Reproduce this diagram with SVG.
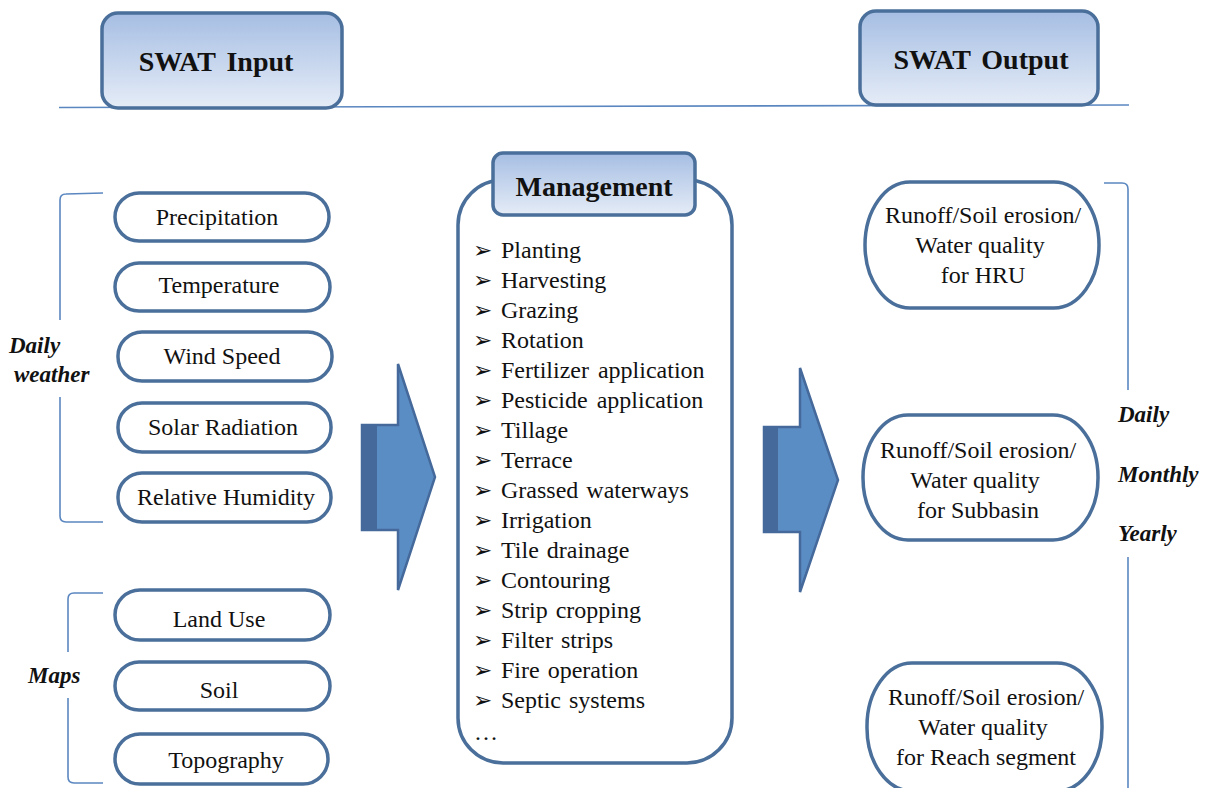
<svg xmlns="http://www.w3.org/2000/svg" width="1209" height="788" viewBox="0 0 1209 788">
  <defs>
    <linearGradient id="hdrFill" x1="0" y1="0" x2="0" y2="1">
      <stop offset="0" stop-color="#a6bee3"/>
      <stop offset="1" stop-color="#e5ecf7"/>
    </linearGradient>
    <style>
      .hdr { fill: url(#hdrFill); stroke: #4a6f9a; stroke-width: 3.5; }
      .pill { fill: #ffffff; stroke: #4a6f9a; stroke-width: 3.5; }
      .brk { fill: none; stroke: #5b87c0; stroke-width: 1.6; }
      .arrow { fill: #5b8dc5; stroke: #44699a; stroke-width: 2.5; stroke-linejoin: miter; }
      .strip { fill: #45699a; }
      .t { font-family: "Liberation Serif", "Times New Roman", serif; font-size: 24px; fill: #111111; }
      .tb { font-family: "Liberation Serif", "Times New Roman", serif; font-size: 28px; font-weight: bold; fill: #111111; }
      .ti { font-family: "Liberation Serif", "Times New Roman", serif; font-size: 23px; font-weight: bold; font-style: italic; fill: #111111; }
      .bul { font-family: "DejaVu Sans", sans-serif; font-size: 23px; fill: #111111; }
      .c { text-anchor: middle; }
    </style>
  </defs>

  <!-- header rule -->
  <line x1="59" y1="107.5" x2="1129" y2="105" stroke="#5b87c0" stroke-width="1.6"/>

  <!-- section headers -->
  <g id="swat-input">
    <rect class="hdr" x="102" y="13" width="240" height="95" rx="16"/>
    <text class="tb c" x="216" y="71" word-spacing="4">SWAT Input</text>
  </g>
  <g id="swat-output">
    <rect class="hdr" x="860" y="11" width="238" height="94" rx="16"/>
    <text class="tb c" x="981" y="69" word-spacing="4">SWAT Output</text>
  </g>

  <!-- brackets -->
  <g id="brackets">
    <path class="brk" d="M103,193 L66,194 Q60,194 60,200 L60,320"/>
    <path class="brk" d="M60,397 L60,516 Q60,522 66,522 L103,522"/>
    <path class="brk" d="M103,593 L74,593 Q68,593 68,599 L68,652"/>
    <path class="brk" d="M68,698 L68,777 Q68,783 74,783 L103,783"/>
    <path class="brk" d="M1104,183 L1122,183 Q1128,183 1128,189 L1128,390"/>
    <path class="brk" d="M1128,557 L1128,790"/>
  </g>

  <!-- group labels -->
  <g id="labels">
    <text class="ti" x="9" y="353">Daily</text>
    <text class="ti" x="14" y="382">weather</text>
    <text class="ti" x="28" y="683">Maps</text>
    <text class="ti" x="1118" y="422">Daily</text>
    <text class="ti" x="1118" y="482">Monthly</text>
    <text class="ti" x="1118" y="541">Yearly</text>
  </g>

  <!-- weather inputs -->
  <g id="precipitation">
    <rect class="pill" x="115" y="193" width="214" height="48" rx="24"/>
    <text class="t c" x="217" y="225">Precipitation</text>
  </g>
  <g id="temperature">
    <rect class="pill" x="115" y="263" width="215" height="48" rx="24"/>
    <text class="t c" x="219" y="293">Temperature</text>
  </g>
  <g id="wind-speed">
    <rect class="pill" x="118" y="332" width="214" height="49" rx="24"/>
    <text class="t c" x="222" y="364">Wind Speed</text>
  </g>
  <g id="solar-radiation">
    <rect class="pill" x="118" y="403" width="213" height="49" rx="24"/>
    <text class="t c" x="223" y="435">Solar Radiation</text>
  </g>
  <g id="relative-humidity">
    <rect class="pill" x="118" y="473" width="213" height="49" rx="24"/>
    <text class="t c" x="226" y="505">Relative Humidity</text>
  </g>

  <!-- map inputs -->
  <g id="land-use">
    <rect class="pill" x="115" y="590" width="215" height="50" rx="25"/>
    <text class="t c" x="219" y="627">Land Use</text>
  </g>
  <g id="soil">
    <rect class="pill" x="115" y="662" width="215" height="48" rx="24"/>
    <text class="t c" x="219" y="698">Soil</text>
  </g>
  <g id="topography">
    <rect class="pill" x="115" y="734" width="213" height="50" rx="25"/>
    <text class="t c" x="226" y="768">Topography</text>
  </g>

  <!-- flow arrows -->
  <g id="connectors">
    <path class="arrow" d="M362,425 L398,425 L398,364 L435,477 L398,590 L398,530 L362,530 Z"/>
    <rect class="strip" x="363" y="426" width="14" height="103"/>
    <path class="arrow" d="M764,427 L800,427 L800,368 L838,480 L800,592 L800,532 L764,532 Z"/>
    <rect class="strip" x="765" y="428" width="13" height="103"/>
  </g>

  <!-- management practices -->
  <g id="management">
    <rect class="pill" x="458" y="180" width="274" height="583" rx="45"/>
    <rect class="hdr" x="493" y="153" width="202" height="62" rx="10"/>
    <text class="tb c" x="594" y="196">Management</text>
    <g class="bul">
      <text x="473" y="258">➢</text>
      <text x="473" y="288">➢</text>
      <text x="473" y="318">➢</text>
      <text x="473" y="348">➢</text>
      <text x="473" y="378">➢</text>
      <text x="473" y="408">➢</text>
      <text x="473" y="438">➢</text>
      <text x="473" y="468">➢</text>
      <text x="473" y="498">➢</text>
      <text x="473" y="528">➢</text>
      <text x="473" y="558">➢</text>
      <text x="473" y="588">➢</text>
      <text x="473" y="618">➢</text>
      <text x="473" y="648">➢</text>
      <text x="473" y="678">➢</text>
      <text x="473" y="708">➢</text>
    </g>
    <g class="t">
      <text x="501" y="258">Planting</text>
      <text x="501" y="288">Harvesting</text>
      <text x="501" y="318">Grazing</text>
      <text x="501" y="348">Rotation</text>
      <text x="501" y="378" word-spacing="3">Fertilizer application</text>
      <text x="501" y="408" word-spacing="3">Pesticide application</text>
      <text x="501" y="438">Tillage</text>
      <text x="501" y="468">Terrace</text>
      <text x="501" y="498" word-spacing="2">Grassed waterways</text>
      <text x="501" y="528">Irrigation</text>
      <text x="501" y="558" word-spacing="2">Tile drainage</text>
      <text x="501" y="588">Contouring</text>
      <text x="501" y="618" word-spacing="2">Strip cropping</text>
      <text x="501" y="648" word-spacing="2">Filter strips</text>
      <text x="501" y="678" word-spacing="2">Fire operation</text>
      <text x="501" y="708" word-spacing="2">Septic systems</text>
      <text x="474" y="740">…</text>
    </g>
  </g>

  <!-- outputs -->
  <g id="out-hru">
    <rect class="pill" x="865" y="182" width="234" height="126" rx="45" ry="63"/>
    <text class="t c" x="983" y="223">Runoff/Soil erosion/</text>
    <text class="t c" x="980" y="253">Water quality</text>
    <text class="t c" x="983" y="283">for HRU</text>
  </g>
  <g id="out-subbasin">
    <rect class="pill" x="863" y="415" width="235" height="125" rx="45" ry="62"/>
    <text class="t c" x="978" y="458">Runoff/Soil erosion/</text>
    <text class="t c" x="975" y="488">Water quality</text>
    <text class="t c" x="978" y="518">for Subbasin</text>
  </g>
  <g id="out-reach">
    <rect class="pill" x="867" y="663" width="235" height="128" rx="45" ry="63"/>
    <text class="t c" x="986" y="705">Runoff/Soil erosion/</text>
    <text class="t c" x="983" y="735">Water quality</text>
    <text class="t c" x="986" y="765">for Reach segment</text>
  </g>
</svg>
